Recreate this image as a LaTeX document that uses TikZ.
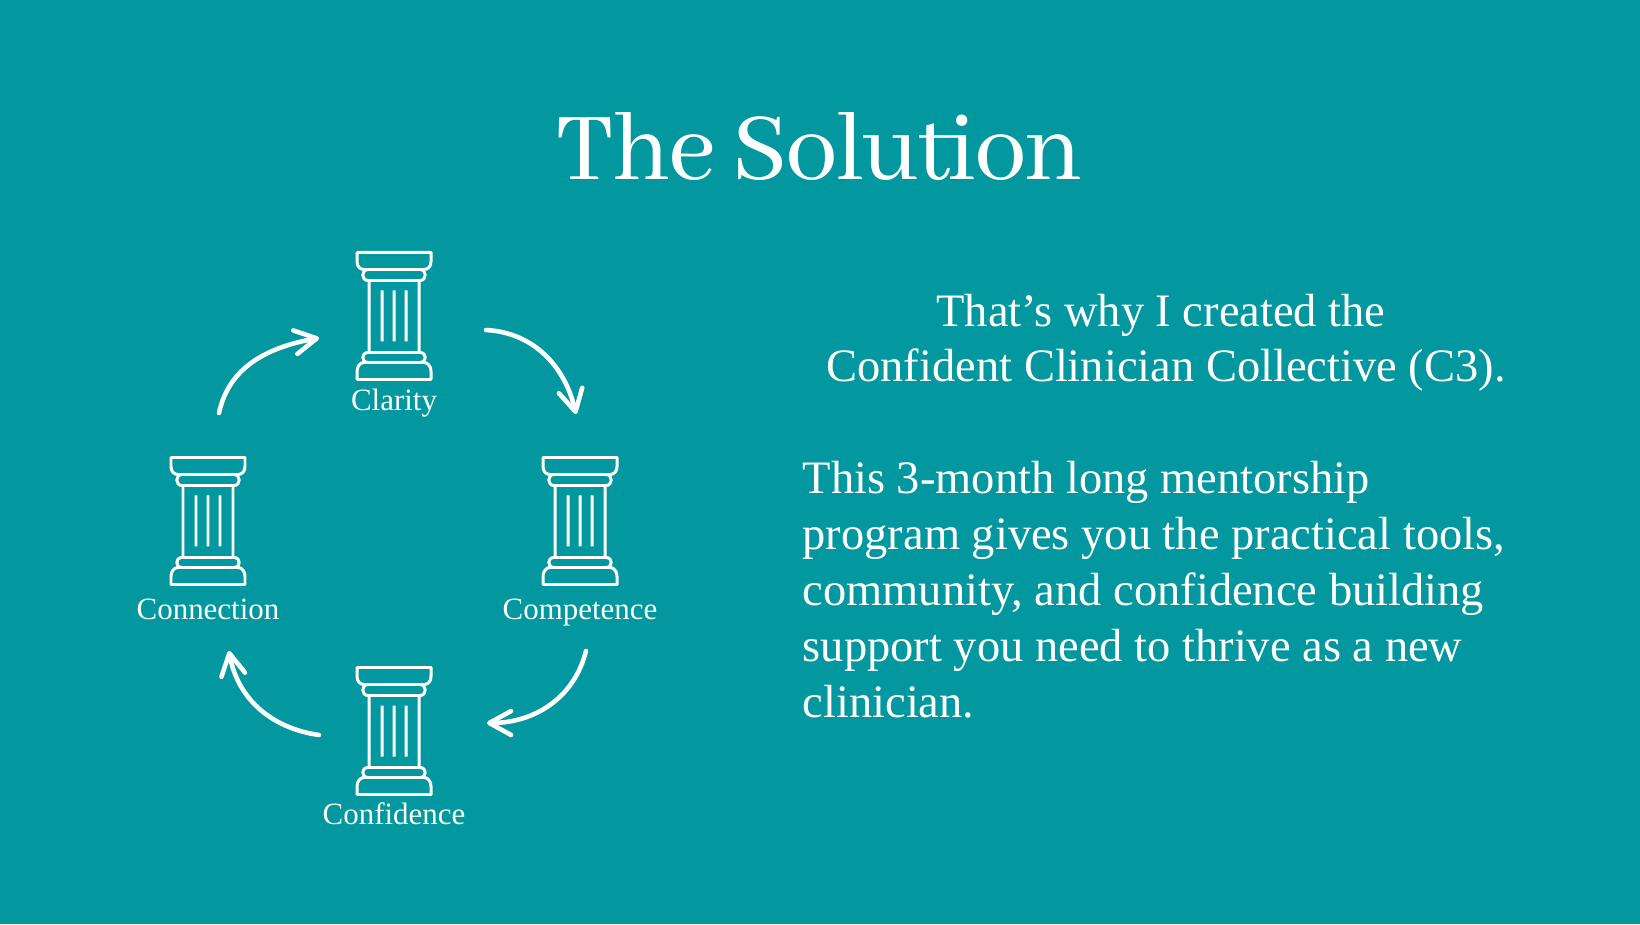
\documentclass[tikz,border=0pt]{standalone}
\usepackage{fontspec}
\usepackage{xcolor}
\setmainfont{Liberation Serif}
\newfontfamily\headfont[LetterSpace=-2.8]{Abhaya Libre}
\usetikzlibrary{arrows.meta}
\definecolor{tealbg}{HTML}{03989F}

\begin{document}
\begin{tikzpicture}[x=0.01cm, y=0.01cm]
	\tikzset{
		title/.style={text=white, anchor=base, font=\headfont\fontsize{30}{36}\selectfont},
		body/.style={text=white, inner sep=0pt, font=\fontsize{13.22}{15.9}\selectfont},
		label/.style={text=white, anchor=base, font=\fontsize{8.8}{10}\selectfont},
		cycle/.style={draw=white, line width=1.3pt, line cap=round,
			-{Straight Barb[round, length=6.2pt, width=6.8pt]}},
		pillar/.pic={
			\draw[white, line width=0.85pt, line join=round]
				(-37,0) -- (37,0) -- (37,-9) .. controls (37,-14) and (34,-17) .. (30,-17) -- (-30,-17) .. controls (-34,-17) and (-37,-14) .. (-37,-9) -- cycle
				(-26,-17) -- (26,-17) .. controls (33,-17) and (33,-28) .. (26,-28) -- (-26,-28) .. controls (-33,-28) and (-33,-17) .. (-26,-17) -- cycle
				(-25,-28) -- (-25,-100) (25,-28) -- (25,-100)
				(-12,-38) -- (-12,-89) (0,-38) -- (0,-89) (12,-38) -- (12,-89)
				(-26,-100) -- (26,-100) .. controls (33,-100) and (33,-110) .. (26,-110) -- (-26,-110) .. controls (-33,-110) and (-33,-100) .. (-26,-100) -- cycle
				(-30,-110) -- (30,-110) .. controls (34,-110) and (37,-114) .. (37,-119) -- (37,-127) -- (-37,-127) -- (-37,-119) .. controls (-37,-114) and (-34,-110) .. (-30,-110) -- cycle;
		}
	}
	\fill[tealbg] (0,0) rectangle (1640,924);

	\node[title](head) at (819.5,744){The Solution};
	\node[body, align=center, anchor=base](intro) at (1166,542){That’s why I created the\kern0.1cm\\Confident Clinician Collective (C3).};
	\node[body, align=left, anchor=base west](para) at (802,206.5){This 3-month long mentorship\\program gives you the practical tools,\\community, and confidence building\\support you need to thrive as a new\\clinician.};

	\pic at (394,671.5){pillar};
	\pic at (580,466.5){pillar};
	\pic at (394,256.5){pillar};
	\pic at (208,466.5){pillar};

	\node[label](clarity) at (394,513){Clarity};
	\node[label](competence) at (580,305){Competence};
	\node[label](confidence) at (394,100){Confidence};
	\node[label](connection) at (208,305){Connection};

	\coordinate (clarityOut) at (486,594);
	\coordinate (competenceIn) at (576,510);
	\coordinate (competenceOut) at (586,273);
	\coordinate (confidenceIn) at (487,201);
	\coordinate (confidenceOut) at (319,189);
	\coordinate (connectionIn) at (229,273);
	\coordinate (connectionOut) at (219,511);
	\coordinate (clarityIn) at (319,586);

	\draw[cycle](clarityOut) to[out=-3, in=103] (competenceIn);
	\draw[cycle](competenceOut) to[out=-104, in=0] (confidenceIn);
	\draw[cycle](confidenceOut) to[out=172, in=-80] (connectionIn);
	\draw[cycle](connectionOut) to[out=78, in=190] (clarityIn);
\end{tikzpicture}
\end{document}
